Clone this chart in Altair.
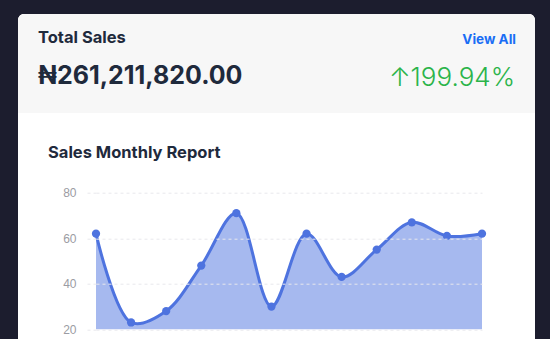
import altair as alt
import pandas as pd

# ---- data ----
months = ["Jan", "Feb", "Mar", "Apr", "May", "Jun", "Jul", "Aug", "Sep", "Oct", "Nov", "Dec"]
sales = [62, 23, 28, 48, 71, 30, 62, 43, 55, 67, 61, 62]
y_ticks = [20, 40, 60, 80]

card_title = "Total Sales"
total_value = "₦261,211,820.00"
change_text = "↑199.94%"
link_text = "View All"
chart_title = "Sales Monthly Report"

# ---- layout (pixels) ----
L, T = 96, 192.7          # plot origin in page
W, H = 386, 136.6         # plot area
PAGE_W, PAGE_H = 550, 339

DARK = "#1c1d2e"
TEXT = "#1f2a3c"
BLUE = "#4e73df"
FILL = "#a6b9ef"
GRID = "#e8e8ec"
FONT = "Inter"

df = pd.DataFrame({"month": months, "sales": sales})
base = alt.Chart(df)

x_enc = alt.X("month:O", sort=months, scale=alt.Scale(type="point", padding=0), axis=None)
y_enc = alt.Y(
    "sales:Q",
    scale=alt.Scale(domain=[20, 80], nice=False, zero=False),
    axis=alt.Axis(
        values=y_ticks, title=None, domain=False,
        tickSize=10, tickColor=GRID, tickDash=[3, 3],
        grid=True, gridColor=GRID, gridDash=[3, 3],
        labelPadding=10, labelFont="Liberation Sans", labelFontSize=12, labelColor="#9b9ca3",
        zindex=1,
    ),
)

one = alt.Data(values=[{}])

card = alt.Chart(one).mark_rect(color="white", cornerRadius=6).encode(
    x=alt.value(18 - L), x2=alt.value(535 - L),
    y=alt.value(14 - T), y2=alt.value(PAGE_H - T + 20),
)
header = alt.Chart(one).mark_rect(
    color="#f7f7f7", cornerRadiusTopLeft=6, cornerRadiusTopRight=6
).encode(
    x=alt.value(18 - L), x2=alt.value(535 - L),
    y=alt.value(14 - T), y2=alt.value(113 - T),
)

area = base.mark_area(interpolate="catmull-rom", color=FILL, opacity=1).encode(
    x=x_enc, y=y_enc, y2=alt.datum(20)
)
line = base.mark_line(interpolate="catmull-rom", color=BLUE, strokeWidth=3).encode(
    x=x_enc, y=y_enc
)
points = base.mark_circle(size=68, color=BLUE, opacity=1).encode(x=x_enc, y=y_enc)


def label(txt, px, py, size, weight, color, align="left", font=FONT):
    return alt.Chart(one).mark_text(
        text=txt, font=font, fontSize=size, fontWeight=weight, color=color,
        align=align, baseline="alphabetic",
    ).encode(x=alt.value(px - L), y=alt.value(py - T))


t1 = label(card_title, 38, 43, 16.5, "bold", TEXT)
t2 = label(total_value, 38, 83.5, 25, "bold", TEXT, font="Inter, DejaVu Sans")
t3 = label(link_text, 516, 44, 13.5, "bold", "#1a6ef5", align="right")
t4 = label(change_text, 515, 86, 26, 300, "#2bb44a", align="right", font="Inter, DejaVu Sans")
t5 = label(chart_title, 48, 157.5, 16.5, "bold", TEXT)

chart = alt.layer(card, header, area, line, points, t1, t2, t3, t4, t5).properties(
    width=W, height=H,
    autosize=alt.AutoSizeParams(type="none"),
    padding={"left": L, "top": T, "right": PAGE_W - L - W, "bottom": PAGE_H - T - H},
    background=DARK,
).configure_view(stroke=None)

chart.save("out.html", embed_options={"renderer": "svg", "actions": False})
